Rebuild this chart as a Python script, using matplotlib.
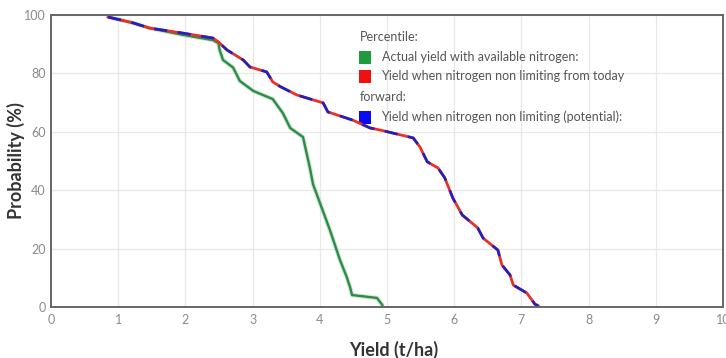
import matplotlib.pyplot as plt
from matplotlib.patches import Rectangle

# yield (t/ha) vs probability (%) for each scenario
actual_yield = [0.85, 1.22, 1.47, 1.96, 2.41, 2.49, 2.51, 2.56, 2.71, 2.81, 3.01, 3.30,
                3.45, 3.56, 3.75, 3.85, 3.90, 4.15, 4.30, 4.40, 4.45, 4.48, 4.85, 4.93]
actual_prob = [99.3, 97.3, 95.5, 93.2, 91.4, 90.4, 88.0, 84.6, 82.0, 77.4, 74.0, 71.2,
               66.4, 61.3, 58.2, 47.9, 42.0, 26.4, 16.1, 10.3, 6.8, 4.1, 3.1, 0.7]

today_yield = [0.85, 1.22, 1.47, 1.96, 2.41, 2.49, 2.62, 2.86, 2.96, 3.21, 3.30, 3.41,
               3.66, 4.05, 4.12, 4.49, 4.75, 4.90, 5.39, 5.49, 5.60, 5.76, 5.86, 5.98,
               6.12, 6.35, 6.43, 6.65, 6.71, 6.83, 6.88, 7.08, 7.20, 7.25]
today_prob = [99.3, 97.3, 95.5, 93.8, 92.1, 90.8, 88.0, 84.6, 82.2, 80.5, 77.1, 75.5,
              72.6, 69.9, 66.8, 64.0, 61.3, 60.6, 57.9, 54.8, 49.7, 47.6, 44.2, 37.3,
              31.5, 27.1, 23.6, 19.5, 14.4, 11.0, 7.5, 4.8, 1.0, 0.4]

potential_yield = today_yield
potential_prob = today_prob

legend_title = "Percentile:"
legend_items = [("#1e9b3c", "Actual yield with available nitrogen:"),
                ("#f01010", "Yield when nitrogen non limiting from today\nforward:"),
                ("#0a0af5", "Yield when nitrogen non limiting (potential):")]

plt.rcParams['font.family'] = ['Lato', 'DejaVu Sans']

fig = plt.figure(figsize=(7.26, 3.58), dpi=100)
ax = fig.add_axes([51/726, 51/358, 672/726, 292/358])

ax.plot(actual_yield, actual_prob, color="#a9d9b2", linewidth=3.2, alpha=0.6, solid_capstyle="round")
ax.plot(actual_yield, actual_prob, color="#2e8b4a", linewidth=1.7)
ax.plot(today_yield, today_prob, color="#e8302a", linewidth=2.0)
ax.plot(potential_yield, potential_prob, color="#2020c0", linewidth=1.9, dashes=(5, 4))

ax.set_xlim(0, 10)
ax.set_ylim(0, 100)
ax.set_xticks(range(0, 11))
ax.set_yticks(range(0, 101, 20))
ax.grid(True, color="#e8e8e8", linewidth=0.9)
ax.set_axisbelow(True)
ax.tick_params(length=0, labelsize=9, labelcolor="#8a8a8a", pad=5)
ax.tick_params(axis="y", pad=4)
for side in ax.spines:
    ax.spines[side].set_color("#666666")
    ax.spines[side].set_linewidth(1.4)

ax.set_xlabel("Yield (t/ha)", fontsize=13, fontweight="bold", color="#333333")
ax.xaxis.set_label_coords(0.51, -0.115)
ax.set_ylabel("Probability (%)", fontsize=13, fontweight="bold", color="#333333")
ax.yaxis.set_label_coords(-0.038, 0.5)

# legend drawn by hand, text wraps under the marker
tx = (360 - 51) / 672
fs = 9
ax.text(tx, 0.925, legend_title, transform=ax.transAxes, fontsize=fs, color="#555555", va="center")
rows = [0.856, 0.791, 0.651]
for (col, label), ry in zip(legend_items, rows):
    ax.add_patch(Rectangle((tx - 0.002, ry - 0.024), 0.018, 0.044, transform=ax.transAxes,
                           facecolor=col, edgecolor="none", clip_on=False))
    ax.text(tx + 0.032, ry, label.split("\n")[0], transform=ax.transAxes, fontsize=fs,
            color="#555555", va="center")
    if "\n" in label:
        ax.text(tx, 0.719, label.split("\n")[1], transform=ax.transAxes, fontsize=fs,
                color="#555555", va="center")

fig.savefig("out.png", dpi=100)
